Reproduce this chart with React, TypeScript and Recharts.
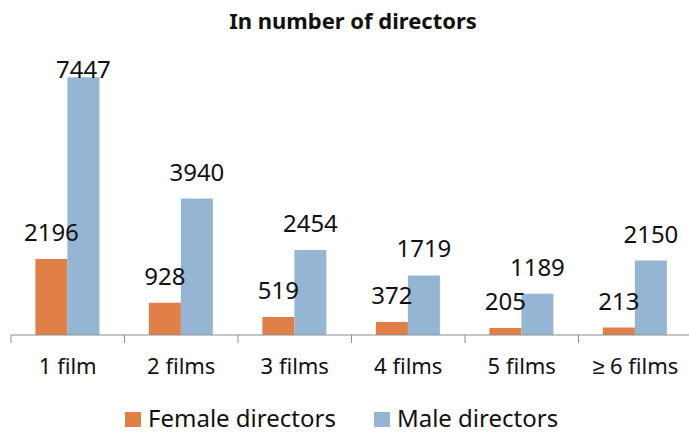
import React from "react";
import { BarChart, Bar, XAxis, YAxis, LabelList } from "recharts";

const categories = ["1 film", "2 films", "3 films", "4 films", "5 films", "≥ 6 films"];
const femaleDirectors = [2196, 928, 519, 372, 205, 213];
const maleDirectors = [7447, 3940, 2454, 1719, 1189, 2150];

const FEMALE = "#E07F47";
const MALE = "#94B6D3";
const AXIS = "#8C8C8C";

const CHART_W = 692;
const CHART_H = 435;
const MARGIN = { top: 58, right: 0, left: 11, bottom: 60 };
const BAND = (CHART_W - MARGIN.left - MARGIN.right) / categories.length;

const data = categories.map((name, i) => ({
  name,
  female: femaleDirectors[i],
  male: maleDirectors[i],
}));

// ticks sit on the band edges, labels in the middle
const AxisTick = (props: any) => {
  const { x, y, payload } = props;
  const edge = x - BAND / 2;
  return (
    <g>
      <line x1={edge} x2={edge} y1={y} y2={y + 8} stroke={AXIS} />
      <text x={x} y={y + 39} textAnchor="middle" fontSize={22} fill="#111">
        {payload.value}
      </text>
    </g>
  );
};

const renderLabel = (props: any) => {
  const { x, y, width, value } = props;
  // the tallest label is squeezed against the top of its bar
  const off = y < 90 ? -1 : 18;
  return (
    <text x={x + width / 2} y={y - off} textAnchor="middle" fontSize={24} fill="#111">
      {value}
    </text>
  );
};

export default function App() {
  return (
    <div
      style={{
        position: "absolute",
        left: 0,
        top: 0,
        width: 689,
        height: 435,
        overflow: "hidden",
        background: "#fff",
        fontFamily: "'Noto Sans', sans-serif",
      }}
    >
      <div
        style={{
          position: "absolute",
          left: 0,
          top: 9,
          width: 706,
          textAlign: "center",
          fontSize: 22,
          lineHeight: "22px",
          fontWeight: 700,
          color: "#111",
        }}
      >
        In number of directors
      </div>

      <BarChart
        width={CHART_W}
        height={CHART_H}
        data={data}
        margin={MARGIN}
        barCategoryGap="21.5%"
        barGap={0}
      >
        <XAxis
          dataKey="name"
          height={40}
          axisLine={{ stroke: AXIS }}
          tickLine={false}
          tickSize={0}
          tickMargin={0}
          interval={0}
          tick={<AxisTick />}
        />
        <YAxis hide domain={[0, 8000]} />
        <Bar dataKey="female" fill={FEMALE} isAnimationActive={false}>
          <LabelList dataKey="female" content={renderLabel} />
        </Bar>
        <Bar dataKey="male" fill={MALE} isAnimationActive={false}>
          <LabelList dataKey="male" content={renderLabel} />
        </Bar>
      </BarChart>

      <div
        style={{
          position: "absolute",
          left: 125,
          top: 406,
          display: "flex",
          alignItems: "center",
          fontSize: 24,
          lineHeight: "24px",
          color: "#111",
        }}
      >
        <span style={{ width: 16, height: 15, background: FEMALE, marginRight: 7, marginTop: 2 }} />
        <span style={{ marginRight: 38 }}>Female directors</span>
        <span style={{ width: 16, height: 15, background: MALE, marginRight: 7, marginTop: 2 }} />
        <span>Male directors</span>
      </div>
    </div>
  );
}
